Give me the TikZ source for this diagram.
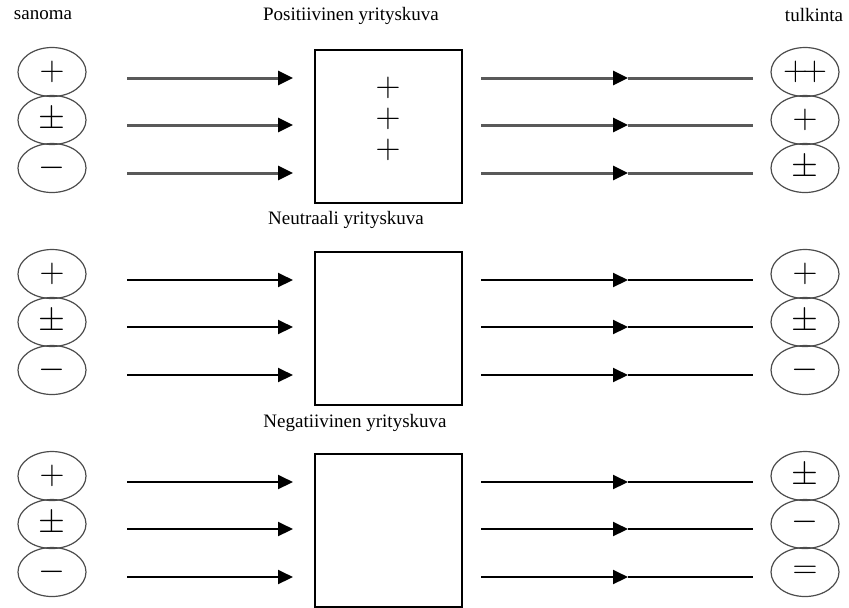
\documentclass[tikz,border=0pt]{standalone}
\usepackage{fontspec}
\setmainfont{Liberation Serif}
\usetikzlibrary{shapes.geometric,arrows.meta}

\tikzset{
  sign/.style={ellipse,draw=black!70,line width=0.6pt,minimum width=34pt,minimum height=24.5pt,inner sep=0pt,font=\LARGE},
  image/.style={draw,line width=0.8pt,minimum width=73.5pt,minimum height=76.5pt,inner sep=0pt},
  title/.style={font=\fontsize{9.5}{10}\selectfont,inner sep=1pt},
  flowtip/.style={-{Triangle[length=7.5pt,width=7pt,color=black]}}
}

\begin{document}
\begin{tikzpicture}[x=0.5pt,y=-0.5pt]
  \useasboundingbox (0,0) rectangle (849,607);

  % Headings
  \node[title] (sanoma) at (43,15) {sanoma};
  \node[title] (tulkinta) at (814,15) {tulkinta};
  \node[title] (kuva1) at (351,16) {Positiivinen yrityskuva};
  \node[title] (kuva2) at (346,220) {Neutraali yrityskuva};
  \node[title] (kuva3) at (355,423) {Negatiivinen yrityskuva};

  % One row for each image
  \foreach \r/\dy/\col/\lw/\ta/\tb/\tc in {
      1/0/black!65/1.5pt/{$+\!+$}/{$+$}/{$\pm$},
      2/202/black/1pt/{$+$}/{$\pm$}/{$-$},
      3/404/black/1pt/{$\pm$}/{\raisebox{4pt}{$-$}}/{$=$}}
    {
      \begin{scope}[shift={(0,\dy)}]
        % Message
        \node[sign] (san\r a) at (52,72) {$+$};
        \node[sign] (san\r b) at (52,120) {$\pm$};
        \node[sign] (san\r c) at (52,168) {$-$};

        % Image
        \node[image] (box\r) at (388.5,126.5) {};

        % Interpretation
        \node[sign] (tul\r a) at (805,72) {\ta};
        \node[sign] (tul\r b) at (805,120) {\tb};
        \node[sign] (tul\r c) at (805,168) {\tc};

        % Flow arrows
        \foreach \i/\y in {a/78,b/125,c/173}
          {
            \coordinate (in\r\i) at (127,\y);
            \coordinate (hit\r\i) at (293,\y);
            \coordinate (out\r\i) at (481,\y);
            \coordinate (mid\r\i) at (628,\y);
            \coordinate (end\r\i) at (753,\y);
            \draw[draw=\col,line width=\lw,flowtip] (in\r\i) -- (hit\r\i);
            \draw[draw=\col,line width=\lw,flowtip] (out\r\i) -- (mid\r\i);
            \draw[draw=\col,line width=\lw] (mid\r\i) -- (end\r\i);
          }
      \end{scope}
    }

  % Positive image
  \node[font=\LARGE,inner sep=0pt,align=center,
        execute at begin node=\setlength{\baselineskip}{15.5pt}]
    (plusses) at (388,119) {$+$\\$+$\\$+$};
\end{tikzpicture}
\end{document}
